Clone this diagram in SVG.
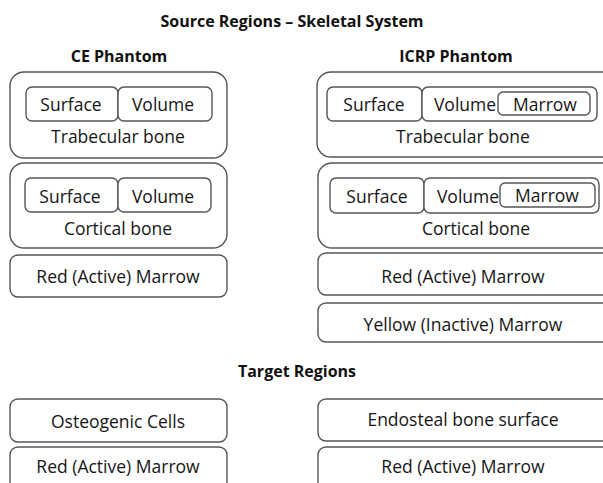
<svg xmlns="http://www.w3.org/2000/svg" width="603" height="483" viewBox="0 0 603 483">
  <style>
    .box { fill: #ffffff; stroke: #555555; stroke-width: 1.4; }
    .t { font-family: "Open Sans", "Liberation Sans", Arial, sans-serif; font-size: 17.5px; fill: #161616; text-anchor: middle; }
    .h { font-family: "Open Sans", "Liberation Sans", Arial, sans-serif; font-size: 16px; font-weight: bold; fill: #111; text-anchor: middle; }
  </style>
  <rect width="603" height="483" fill="#ffffff"/>

  <!-- headings -->
  <text class="h" x="292" y="27">Source Regions – Skeletal System</text>
  <text class="h" x="119" y="62">CE Phantom</text>
  <text class="h" x="456" y="62">ICRP Phantom</text>
  <text class="h" x="297" y="377">Target Regions</text>

  <!-- CE phantom: trabecular bone -->
  <g id="ce-trabecular">
    <rect class="box" x="10" y="72" width="217" height="86" rx="14"/>
    <rect class="box" x="26" y="87" width="92" height="34" rx="6"/>
    <text class="t" x="71" y="111">Surface</text>
    <rect class="box" x="118" y="87" width="94" height="34" rx="6"/>
    <text class="t" x="163" y="111">Volume</text>
    <text class="t" x="118" y="143">Trabecular bone</text>
  </g>

  <!-- CE phantom: cortical bone -->
  <g id="ce-cortical">
    <rect class="box" x="10" y="163" width="217" height="85" rx="14"/>
    <rect class="box" x="25" y="178" width="93" height="34" rx="6"/>
    <text class="t" x="70" y="203">Surface</text>
    <rect class="box" x="118" y="178" width="93" height="34" rx="6"/>
    <text class="t" x="163" y="203">Volume</text>
    <text class="t" x="118" y="235">Cortical bone</text>
  </g>

  <g id="ce-red-marrow">
    <rect class="box" x="10" y="255" width="217" height="42" rx="8"/>
    <text class="t" x="118" y="283">Red (Active) Marrow</text>
  </g>

  <!-- ICRP phantom: trabecular bone -->
  <g id="icrp-trabecular">
    <rect class="box" x="317" y="72" width="300" height="85" rx="14"/>
    <rect class="box" x="327" y="87" width="95" height="34" rx="6"/>
    <text class="t" x="374" y="111">Surface</text>
    <rect class="box" x="422" y="87" width="175" height="34" rx="6"/>
    <text class="t" x="465" y="111">Volume</text>
    <rect class="box" x="498" y="92" width="92" height="23" rx="5"/>
    <text class="t" x="545" y="111">Marrow</text>
    <text class="t" x="463" y="143">Trabecular bone</text>
  </g>

  <!-- ICRP phantom: cortical bone -->
  <g id="icrp-cortical">
    <rect class="box" x="318" y="163" width="300" height="85" rx="14"/>
    <rect class="box" x="330" y="178" width="94" height="35" rx="6"/>
    <text class="t" x="377" y="203">Surface</text>
    <rect class="box" x="424" y="178" width="175" height="35" rx="6"/>
    <text class="t" x="468" y="203">Volume</text>
    <rect class="box" x="500" y="183" width="95" height="24" rx="5"/>
    <text class="t" x="547" y="202">Marrow</text>
    <text class="t" x="476" y="235">Cortical bone</text>
  </g>

  <g id="icrp-red-marrow">
    <rect class="box" x="318" y="253" width="300" height="42" rx="8"/>
    <text class="t" x="463" y="283">Red (Active) Marrow</text>
  </g>

  <g id="icrp-yellow-marrow">
    <rect class="box" x="318" y="303" width="300" height="39" rx="8"/>
    <text class="t" x="463" y="331">Yellow (Inactive) Marrow</text>
  </g>

  <!-- target regions -->
  <g id="target-osteogenic">
    <rect class="box" x="10" y="399" width="217" height="43" rx="8"/>
    <text class="t" x="118" y="428">Osteogenic Cells</text>
  </g>
  <g id="target-red-left">
    <rect class="box" x="10" y="447" width="217" height="50" rx="8"/>
    <text class="t" x="118" y="473">Red (Active) Marrow</text>
  </g>
  <g id="target-endosteal">
    <rect class="box" x="318" y="399" width="300" height="42" rx="8"/>
    <text class="t" x="463" y="426">Endosteal bone surface</text>
  </g>
  <g id="target-red-right">
    <rect class="box" x="318" y="447" width="300" height="50" rx="8"/>
    <text class="t" x="463" y="473">Red (Active) Marrow</text>
  </g>

  <g id="connectors"/>
</svg>
